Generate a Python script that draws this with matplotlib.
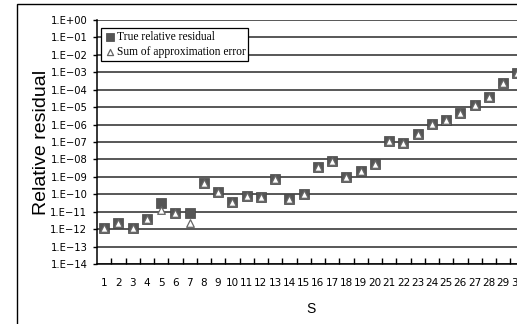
"""Relative residual vs s, true residual against summed approximation error."""
import numpy as np
import matplotlib
matplotlib.use('Agg')
import matplotlib.pyplot as plt
from matplotlib.patches import Rectangle
from matplotlib.ticker import FixedLocator, NullFormatter

### DATA
s = np.arange(1, 31)
# log10 of the true relative residual
true_exp = [-11.95, -11.63, -11.95, -11.44, -10.52, -11.09, -11.05, -9.37, -9.85, -10.42,
            -10.10, -10.17, -9.10, -10.29, -9.98, -8.45, -8.11, -8.99, -8.68, -8.26,
            -6.96, -7.06, -6.56, -5.97, -5.74, -5.32, -4.90, -4.40, -3.63, -3.06]
# log10 of the summed approximation error
approx_exp = [-11.95, -11.63, -11.95, -11.44, -10.90, -11.09, -11.67, -9.37, -9.85, -10.42,
              -10.10, -10.17, -9.10, -10.29, -9.98, -8.45, -8.11, -8.99, -8.68, -8.26,
              -6.96, -7.06, -6.56, -5.97, -5.74, -5.32, -4.90, -4.40, -3.63, -3.06]
true_res = 10.0 ** np.array(true_exp)
approx_err = 10.0 ** np.array(approx_exp)

y_exps = list(range(0, -15, -1))
y_labels = ['1.E+00' if e == 0 else f'1.E\u2212{-e:02d}' for e in y_exps]

### PLOT
W, H = 517, 324
fig = plt.figure(figsize=(W / 100, H / 100), dpi=100)

# outer frame of the chart area (cut at right and bottom)
fig.patches.append(Rectangle((17 / W, -0.1), 1.2, 1.1 - 4 / H, transform=fig.transFigure,
                             fill=False, edgecolor='black', linewidth=1.0))

ax = fig.add_axes([97 / W, 60 / H, 427.5 / W, 244 / H])
ax.set_yscale('log')
ax.set_ylim(1e-14, 1)
ax.set_xlim(0.5, 30.5)

for e in y_exps:
    ax.axhline(10.0 ** e, color='#2a2a2a', linewidth=1.1, zorder=1)

ax.scatter(s, true_res, marker='s', s=48, color='#555555', edgecolor='#444444',
           linewidth=0.5, zorder=3, label='True relative residual')
ax.scatter(s, approx_err, marker='^', s=30, facecolor='white', edgecolor='#666666',
           linewidth=0.9, zorder=4, label='Sum of approximation error')

ax.yaxis.set_major_locator(FixedLocator([10.0 ** e for e in y_exps]))
ax.yaxis.set_minor_locator(FixedLocator([]))
ax.set_yticklabels(y_labels)
ax.tick_params(axis='y', which='major', direction='out', length=3, width=1, pad=4,
               labelsize=7.2)
for lab in ax.get_yticklabels():
    lab.set_family(['Liberation Sans Narrow', 'DejaVu Sans'])

ax.set_xticks(s)
ax.set_xticklabels([str(v) for v in s])
ax.xaxis.set_minor_locator(FixedLocator(np.arange(1.5, 30.5, 1)))
ax.xaxis.set_minor_formatter(NullFormatter())
ax.tick_params(axis='x', which='major', length=0, pad=10, labelsize=7.5)
ax.tick_params(axis='x', which='minor', direction='in', length=4, width=1)
for lab in ax.get_xticklabels():
    lab.set_family(['Liberation Sans Narrow', 'DejaVu Sans'])

for side in ['top', 'right']:
    ax.spines[side].set_visible(False)
ax.spines['left'].set_linewidth(1.1)
ax.spines['bottom'].set_linewidth(1.1)

ax.set_ylabel('Relative residual', fontsize=14, family='Liberation Sans')
ax.yaxis.set_label_coords(-47 / 427.5, 0.5)
ax.set_xlabel('S', fontsize=10, family='Liberation Sans', labelpad=10)

leg = ax.legend(loc='upper left', bbox_to_anchor=(4 / 427.5, 1 - 8 / 244),
                prop={'family': 'Liberation Serif', 'size': 8.3},
                frameon=True, fancybox=False, edgecolor='black', framealpha=1,
                borderpad=0.25, labelspacing=0.25, handletextpad=0.1,
                handlelength=1.0, borderaxespad=0, markerscale=0.8)
leg.get_frame().set_linewidth(0.9)
leg.set_zorder(5)

fig.savefig('out.png', dpi=100)
